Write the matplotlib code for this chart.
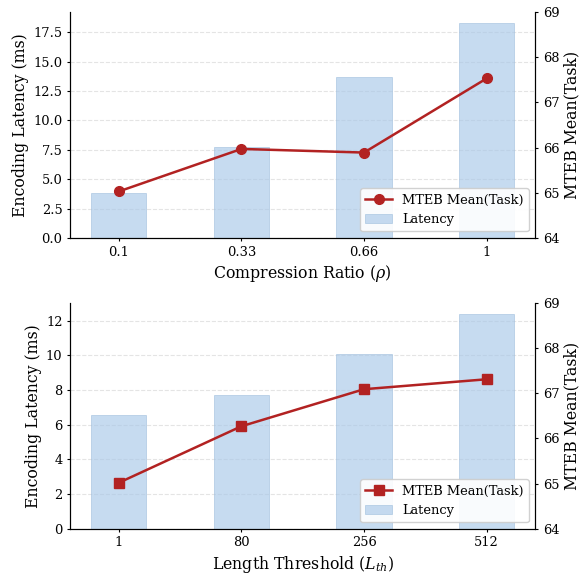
import matplotlib
matplotlib.use("Agg")
import matplotlib.pyplot as plt
import numpy as np

plt.rcParams["font.family"] = "DejaVu Serif"
plt.rcParams["mathtext.fontset"] = "dejavuserif"

# Top panel: compression ratio
ratio_labels = ["0.1", "0.33", "0.66", "1"]
ratio_latency = [3.85, 7.7, 13.7, 18.3]
ratio_mteb = [65.03, 65.97, 65.89, 67.53]

# Bottom panel: length threshold
length_labels = ["1", "80", "256", "512"]
length_latency = [6.55, 7.7, 10.05, 12.4]
length_mteb = [65.02, 66.27, 67.09, 67.31]

BAR_COLOR = "#a8c8e8"
LINE_COLOR = "#b22222"
LABEL_SIZE = 11.3
TICK_SIZE = 9.4


def draw_panel(ax, labels, latency, mteb, marker, xlabel):
    x = np.arange(len(labels))
    ax.grid(axis="y", linestyle="--", color="#d9d9d9", linewidth=0.8, alpha=0.7)
    ax.set_axisbelow(True)
    bars = ax.bar(x, latency, width=0.45, color=BAR_COLOR, alpha=0.65,
                  edgecolor="#9dbddc", linewidth=0.6, label="Latency")
    ax.set_ylim(0, max(latency) * 1.05)
    ax.set_xticks(x)
    ax.set_xticklabels(labels)
    ax.set_xlabel(xlabel, fontsize=LABEL_SIZE, labelpad=3)
    ax.set_ylabel("Encoding Latency (ms)", fontsize=LABEL_SIZE, labelpad=3)
    ax.tick_params(labelsize=TICK_SIZE, length=2.5, pad=3)
    ax.spines["top"].set_visible(False)

    ax2 = ax.twinx()
    (line,) = ax2.plot(x, mteb, color=LINE_COLOR, marker=marker, markersize=7,
                       linewidth=1.8, label="MTEB Mean(Task)")
    ax2.set_ylim(64, 69)
    ax2.set_ylabel("MTEB Mean(Task)", fontsize=LABEL_SIZE, labelpad=3)
    ax2.tick_params(labelsize=TICK_SIZE, length=2.5, pad=3)
    ax2.spines["top"].set_visible(False)
    ax2.legend([line, bars], ["MTEB Mean(Task)", "Latency"], loc="lower right",
               fontsize=TICK_SIZE, framealpha=0.9)


fig, (ax_top, ax_bot) = plt.subplots(2, 1, figsize=(5.85, 5.76), dpi=100)
draw_panel(ax_top, ratio_labels, ratio_latency, ratio_mteb, "o",
           r"Compression Ratio ($\rho$)")
draw_panel(ax_bot, length_labels, length_latency, length_mteb, "s",
           r"Length Threshold ($L_{th}$)")

fig.subplots_adjust(left=0.12, right=0.915, top=0.979, bottom=0.082, hspace=0.288)
fig.savefig("out.png", dpi=100)
